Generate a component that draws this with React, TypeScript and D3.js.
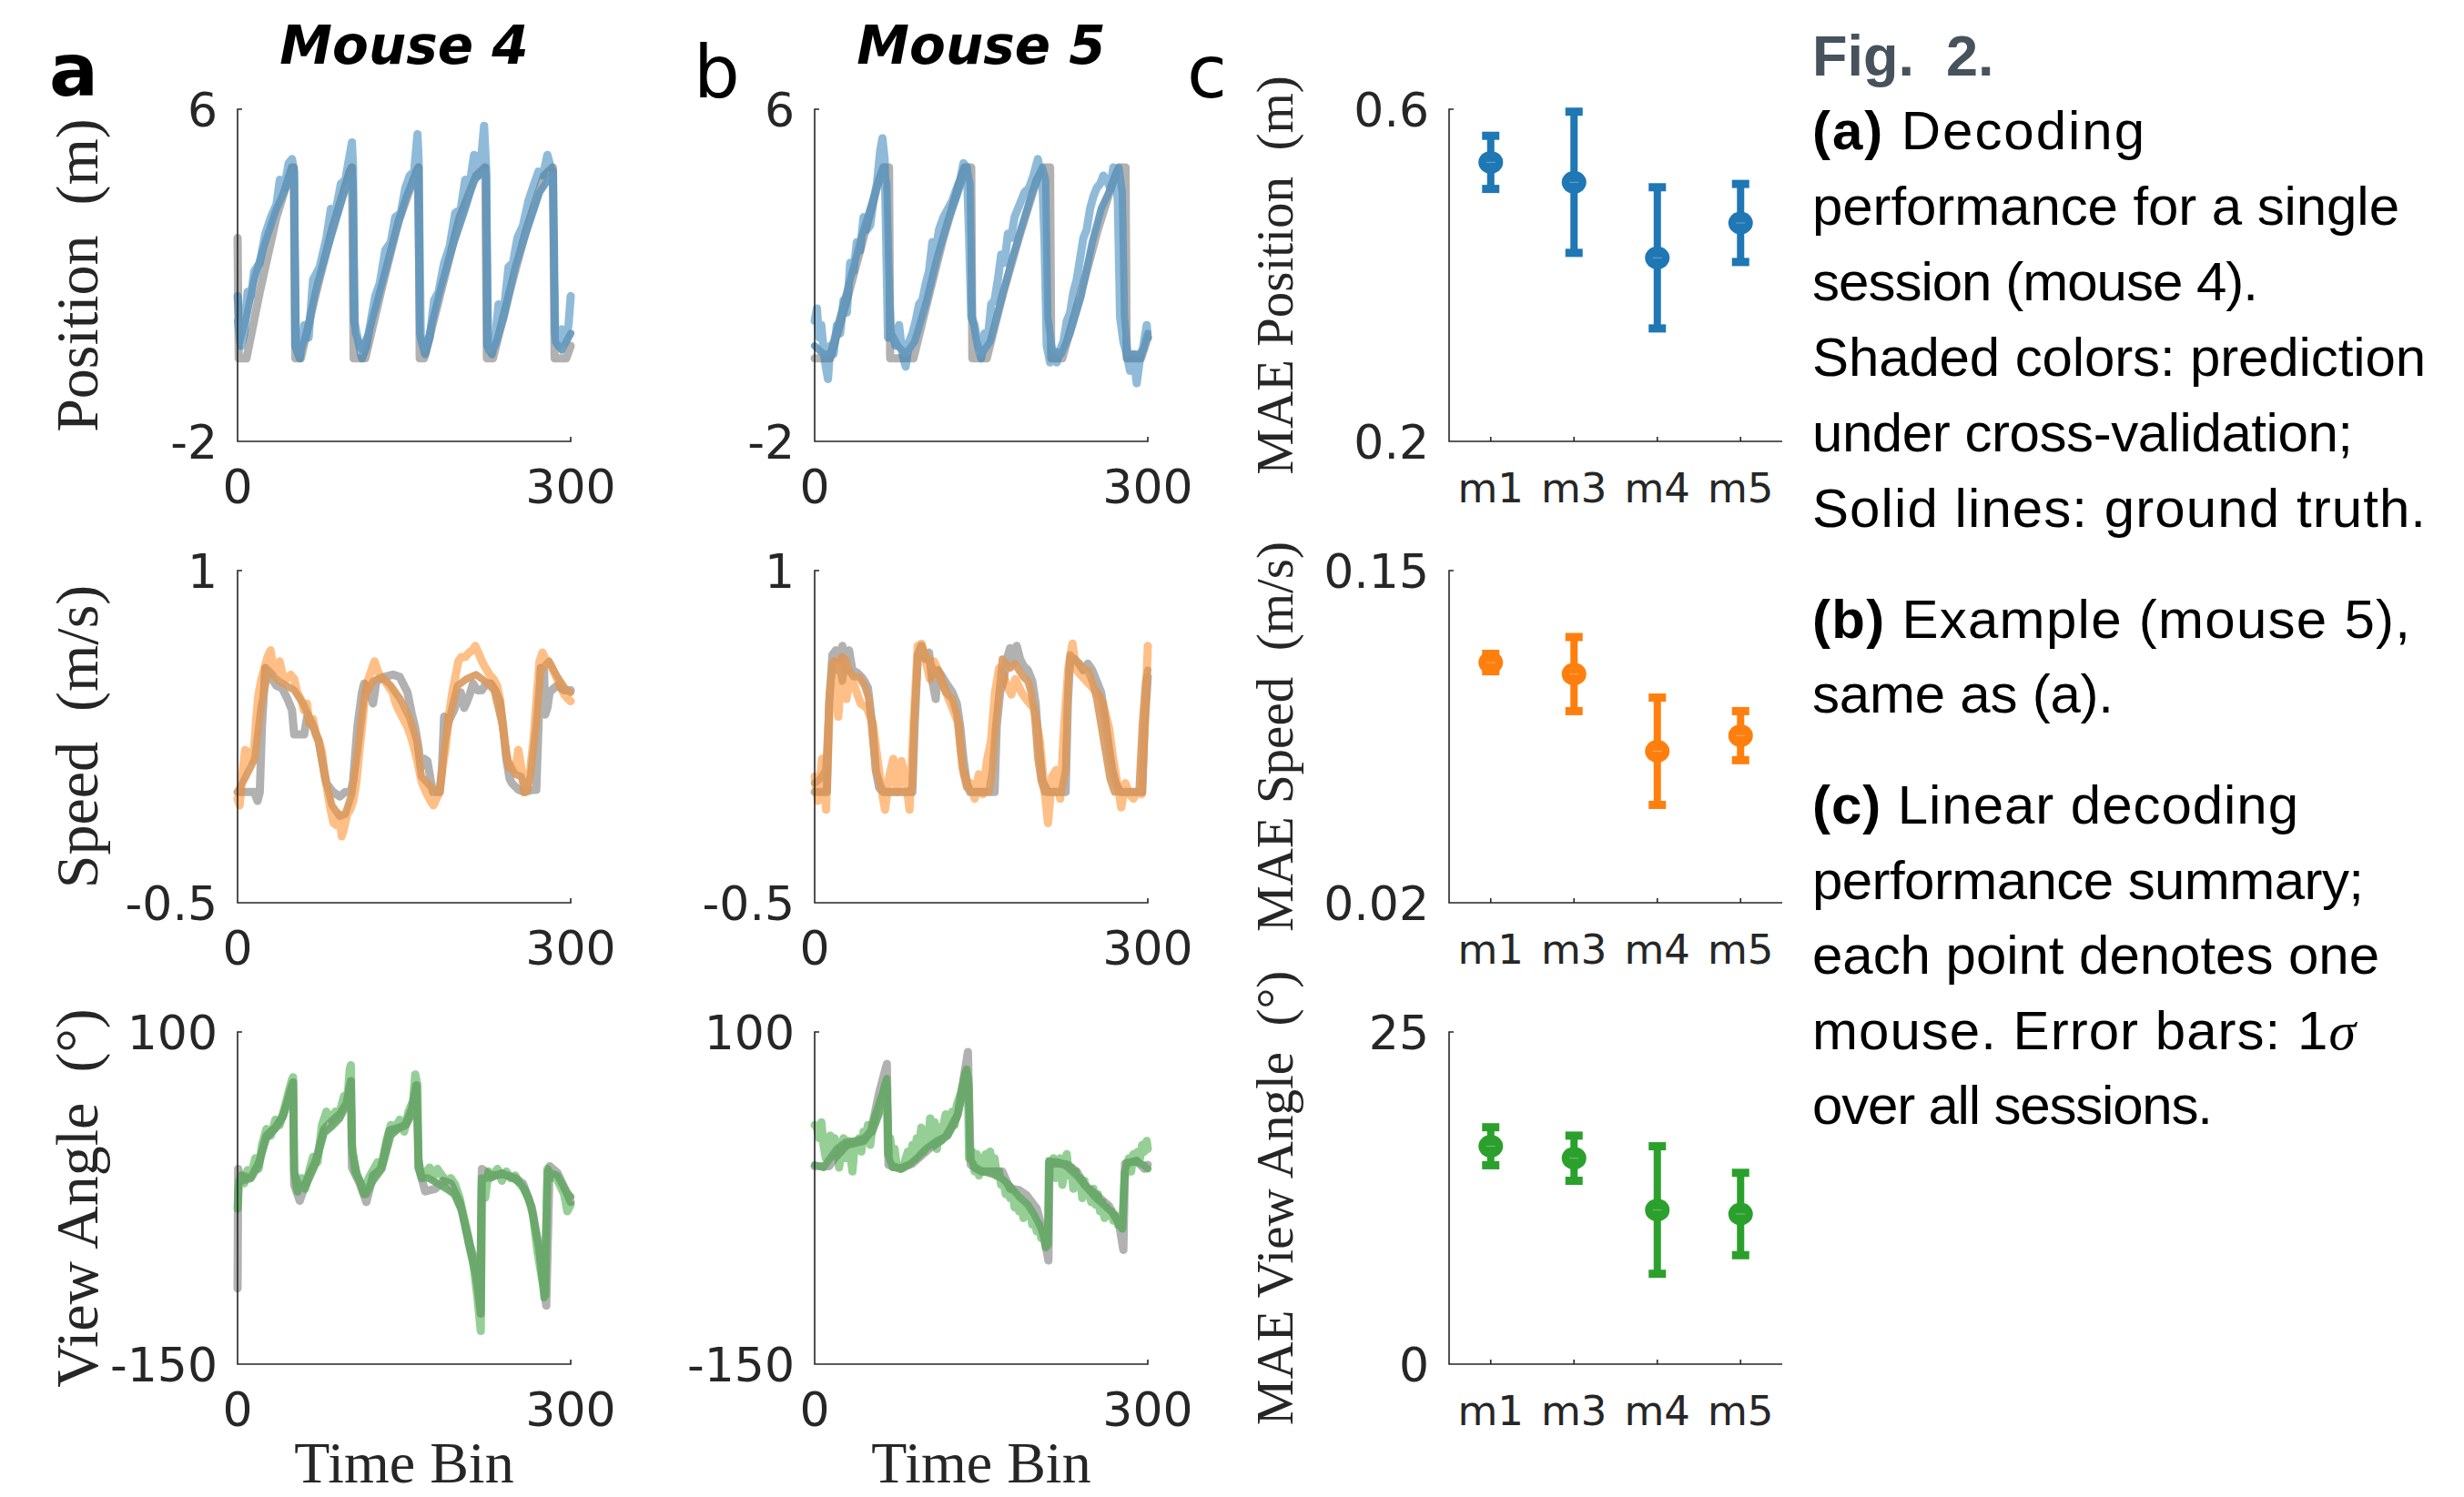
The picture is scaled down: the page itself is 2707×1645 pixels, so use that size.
import React from 'react';
import * as d3 from 'd3';

type Pt = [number, number];

// ---------- traces: [time bin, value] ----------
// position (m), mouse 4
const posTruthM4: Pt[] = [[0,2.9],[1,0],[8,0],[20,1.6],[35,3.4],[49,4.6],[50.5,4.6],[52,0],[57,0],[70,1.5],[85,3.1],[101,4.5],[103,4.6],[104.5,0],[115,0],[130,1.7],[145,3.3],[161,4.5],[163,4.6],[164,0],[168,0],[185,1.8],[200,3.4],[215,4.4],[223,4.6],[224.5,0],[230,0],[245,1.6],[260,3.1],[276,4.4],[284,4.6],[285.5,0],[296,0],[300,0.3]];
const posSmoothM4: Pt[] = [[0,0.9],[2,0.4],[8,1.0],[15,1.9],[25,2.8],[35,3.6],[45,4.2],[49,4.5],[51,4.4],[53,0.2],[56,0.1],[62,0.6],[72,1.8],[85,3.0],[95,3.9],[102,4.4],[104,4.3],[106,0.6],[112,0.2],[118,0.6],[130,1.8],[142,3.0],[152,3.9],[160,4.4],[162,4.5],[164,0.6],[168,0.2],[172,0.5],[182,1.6],[195,2.8],[205,3.6],[213,4.3],[222,4.5],[224,4.4],[226,0.2],[232,0.3],[240,1.0],[250,2.2],[262,3.2],[272,4.0],[282,4.4],[284,4.4],[286,0.4],[292,0.2],[296,0.4],[300,0.6]];
const posPredM4: Pt[] = [[0,1.5],[3,0.3],[6,0.6],[9,1.6],[12,1.5],[15,2.1],[20,2.3],[25,3.0],[30,3.4],[35,3.7],[38,4.3],[42,4.1],[46,4.7],[49,4.8],[51,4.5],[52,0.3],[56,0],[60,0.8],[64,0.5],[68,1.9],[74,2.2],[80,2.9],[84,3.6],[88,3.5],[93,4.2],[97,4.3],[101,4.9],[103,5.2],[104,4.6],[105,0.9],[108,0.5],[112,0.0],[116,0.3],[120,0.9],[124,1.5],[128,1.8],[133,2.6],[138,2.8],[142,3.4],[147,3.5],[151,4.1],[155,4.4],[159,4.5],[162,5.4],[163,4.8],[165,0.5],[169,0.1],[173,0.5],[177,1.4],[181,1.6],[186,2.3],[191,2.7],[196,3.5],[201,3.6],[205,4.3],[209,4.2],[213,4.9],[216,4.4],[220,5.0],[222,5.6],[224,4.5],[225,0.3],[229,0.1],[232,0.5],[235,1.3],[240,1.2],[244,2.2],[248,2.3],[252,2.9],[257,3.2],[262,3.8],[267,4.2],[271,4.5],[275,4.4],[279,4.9],[282,4.6],[284,4.5],[286,0.6],[289,0.3],[292,0.7],[295,0.4],[298,0.8],[300,1.5]];

// position (m), mouse 5
const posTruthM5: Pt[] = [[0,0],[14,0],[30,1.5],[45,3.0],[58,4.3],[62,4.6],[67,4.6],[68,0],[89,0],[100,1.2],[115,2.8],[130,4.2],[135,4.6],[141,4.6],[142,0],[155,0],[170,1.6],[185,3.0],[200,4.3],[206,4.6],[212,4.6],[213,0],[223,0],[240,1.6],[255,3.1],[268,4.2],[274,4.6],[280,4.6],[281,0],[294,0],[300,0.5]];
const posSmoothM5: Pt[] = [[0,0.3],[8,0.1],[14,0.1],[22,0.9],[32,1.9],[42,2.9],[50,3.6],[58,4.3],[62,4.6],[65,4.2],[67,2.0],[69,0.6],[75,0.3],[82,0.1],[90,0.4],[100,1.3],[110,2.4],[120,3.3],[128,3.9],[134,4.4],[137,4.6],[140,4.2],[142,1.0],[146,0.4],[150,0.1],[158,0.4],[168,1.4],[178,2.4],[188,3.3],[196,4.0],[202,4.4],[205,4.6],[208,4.3],[210,1.0],[214,0.2],[222,0.1],[230,0.6],[240,1.5],[250,2.8],[258,3.6],[265,4.0],[272,4.5],[274,4.6],[277,4.0],[279,1.0],[282,0.1],[292,0.1],[296,0.2],[300,0.6]];
const posPredM5: Pt[] = [[0,0.9],[2,1.2],[4,0.5],[6,0.8],[8,0.2],[10,-0.2],[12,-0.5],[14,0.3],[17,0.1],[20,0.8],[23,0.6],[26,1.4],[29,1.1],[32,2.3],[35,2.1],[38,2.8],[41,2.6],[44,3.4],[47,3.1],[50,3.2],[53,3.8],[56,4.2],[59,5.0],[61,5.3],[63,4.8],[65,2.0],[66,0.5],[70,0.6],[73,0.3],[76,0.8],[79,0.1],[82,-0.2],[85,0.4],[88,0.6],[91,0.9],[94,1.3],[97,1.4],[100,1.8],[103,2.1],[106,2.8],[109,2.6],[112,3.1],[116,3.4],[120,3.6],[124,3.8],[128,4.1],[131,4.3],[134,4.7],[137,4.6],[139,3.0],[141,1.0],[144,0.8],[147,0.3],[150,0.0],[153,0.6],[156,0.5],[159,1.3],[162,1.4],[165,1.9],[168,2.5],[171,2.3],[174,3.0],[177,2.9],[180,3.4],[183,3.6],[186,3.8],[189,4.0],[193,4.1],[197,4.4],[201,4.8],[203,4.5],[205,4.3],[207,2.8],[209,0.3],[212,-0.1],[215,0.1],[218,-0.1],[221,0.2],[224,0.4],[227,0.9],[230,1.1],[233,1.6],[236,1.9],[239,2.4],[242,2.9],[245,3.1],[248,3.6],[251,3.9],[254,4.1],[257,4.2],[260,4.4],[263,4.3],[266,4.1],[269,4.6],[271,4.5],[273,3.8],[275,1.0],[278,0.4],[281,0.1],[284,-0.3],[287,0.1],[290,-0.6],[293,0.0],[296,0.3],[299,0.8],[300,0.5]];

// speed (m/s), mouse 4
const spdTruthM4: Pt[] = [[0,0.0],[15,0.0],[18,-0.04],[20,0.0],[22,0.3],[25,0.56],[30,0.52],[35,0.48],[40,0.47],[45,0.42],[49,0.37],[51,0.26],[56,0.26],[60,0.26],[63,0.35],[67,0.31],[73,0.23],[77,0.12],[80,0.04],[86,0.0],[92,-0.02],[97,0.0],[102,0.0],[104,0.05],[108,0.3],[112,0.45],[114,0.49],[118,0.47],[122,0.4],[125,0.5],[132,0.52],[140,0.53],[146,0.52],[150,0.48],[153,0.45],[157,0.35],[160,0.29],[163,0.2],[165,0.11],[168,0.15],[171,0.14],[174,0.05],[176,0.0],[182,0.0],[184,0.1],[186,0.34],[190,0.32],[195,0.37],[198,0.42],[201,0.45],[204,0.38],[206,0.40],[209,0.44],[212,0.49],[216,0.46],[220,0.46],[224,0.49],[228,0.49],[232,0.46],[236,0.41],[239,0.3],[242,0.15],[245,0.06],[247,0.04],[253,0.01],[258,0.0],[266,0.01],[269,0.01],[271,0.3],[273,0.56],[276,0.55],[277,0.35],[279,0.38],[281,0.45],[285,0.47],[288,0.48],[294,0.46],[300,0.46]];
const spdSmoothM4: Pt[] = [[0,0.0],[7.4,0.07],[15.5,0.15],[21,0.38],[27.8,0.55],[37.4,0.50],[51,0.46],[59,0.40],[67,0.31],[72.8,0.23],[78.3,0.07],[85,-0.06],[92,-0.11],[97,-0.10],[102.8,-0.01],[108,0.18],[113.7,0.42],[122,0.50],[130,0.52],[138,0.48],[146.4,0.42],[154.6,0.34],[161.4,0.23],[165.5,0.07],[171,0.04],[176.4,0.01],[182,0.0],[187,0.23],[193,0.38],[198,0.48],[206,0.51],[214.6,0.53],[223,0.50],[231,0.46],[238,0.31],[243.5,0.14],[250,0.08],[255.5,0.07],[259.6,0.0],[263.7,0.07],[269,0.31],[273,0.55],[280.4,0.59],[288,0.52],[296,0.46],[300,0.45]];
const spdPredM4: Pt[] = [[0,-0.03],[1.9,-0.06],[4.1,0.07],[6.8,0.19],[9.5,0.18],[12.3,0.14],[15,0.2],[16.9,0.34],[18.8,0.44],[21.5,0.51],[24.3,0.56],[27,0.61],[29.7,0.64],[31.9,0.57],[34.6,0.55],[37.9,0.59],[40.6,0.53],[44.2,0.51],[47.7,0.53],[51,0.51],[53.7,0.45],[57,0.42],[59.7,0.37],[62.5,0.4],[64.6,0.31],[67.9,0.33],[70.6,0.26],[73.4,0.23],[76.1,0.18],[78.3,0.08],[81,0.0],[83.7,-0.08],[86.5,-0.14],[89.2,-0.15],[91.9,-0.1],[93.8,-0.2],[96,-0.16],[98.7,-0.1],[101.4,-0.08],[104.2,-0.04],[106.9,0.04],[109.6,0.18],[112.4,0.31],[115.1,0.45],[117.8,0.51],[120.5,0.55],[123.3,0.59],[126,0.55],[128.7,0.52],[131.4,0.51],[135.5,0.48],[139.6,0.45],[142.4,0.4],[145.1,0.37],[149.2,0.33],[153.3,0.29],[157.4,0.23],[161.4,0.15],[165.5,0.05],[169.6,0.0],[173.7,-0.04],[176.4,-0.06],[179.2,-0.03],[181.9,0.0],[184.6,0.11],[187.4,0.2],[190.1,0.34],[193.4,0.45],[196.1,0.52],[198.8,0.59],[201.5,0.61],[205.1,0.61],[208.6,0.63],[211.4,0.64],[214.1,0.66],[216.8,0.63],[220.1,0.59],[223.4,0.56],[226.9,0.53],[230.5,0.51],[233.7,0.48],[236.4,0.42],[239.2,0.29],[241.9,0.18],[244.6,0.11],[247.3,0.12],[250.1,0.1],[252.8,0.19],[255.5,0.11],[258.2,0.0],[261,0.01],[263.7,0.11],[266.4,0.23],[269.2,0.42],[271.9,0.59],[274.6,0.63],[277.3,0.6],[280.1,0.59],[283.3,0.56],[286.9,0.52],[290.4,0.48],[294.2,0.44],[297.8,0.42],[300,0.41]];

// speed (m/s), mouse 5
const spdTruthM5: Pt[] = [[0,0.0],[11,0.0],[13,0.4],[16,0.62],[19,0.64],[22,0.6],[25,0.66],[28,0.55],[31,0.64],[34,0.55],[38,0.54],[42,0.52],[45,0.5],[48,0.47],[52,0.3],[55,0.1],[58,0.02],[62,0.0],[70,0.0],[80,0.0],[88,0.0],[90,0.3],[93,0.62],[96,0.66],[100,0.6],[103,0.63],[106,0.5],[109,0.42],[111,0.55],[115,0.52],[120,0.48],[124,0.45],[128,0.4],[131,0.3],[134,0.15],[137,0.04],[140,0.0],[150,0.0],[158,0.0],[162,0.0],[164,0.3],[167,0.45],[170,0.5],[173,0.6],[176,0.65],[179,0.58],[182,0.66],[185,0.6],[188,0.57],[192,0.55],[196,0.5],[199,0.4],[202,0.2],[205,0.05],[210,0.0],[220,0.0],[226,0.0],[228,0.4],[230,0.6],[234,0.6],[238,0.58],[242,0.55],[246,0.58],[250,0.55],[254,0.5],[258,0.45],[261,0.35],[265,0.2],[268,0.1],[271,0.04],[275,0.0],[285,0.0],[295,0.0],[297,0.3],[300,0.52]];
const spdSmoothM5: Pt[] = [[0,0.04],[5,0.06],[10,0.1],[13,0.4],[16,0.58],[19,0.55],[22,0.58],[25,0.5],[28,0.6],[31,0.55],[35,0.52],[40,0.52],[45,0.48],[49,0.42],[52,0.25],[55,0.1],[58,0.05],[62,0.0],[68,0.0],[76,0.0],[84,0.0],[88,0.02],[90,0.35],[93,0.6],[96,0.66],[100,0.62],[103,0.6],[107,0.55],[112,0.52],[118,0.45],[124,0.42],[128,0.35],[131,0.2],[134,0.08],[137,0.02],[142,0.0],[150,0.0],[157,0.0],[160,0.1],[163,0.3],[166,0.45],[169,0.6],[172,0.58],[176,0.56],[180,0.58],[184,0.55],[188,0.52],[192,0.5],[195,0.45],[198,0.35],[201,0.15],[204,0.05],[207,0.0],[215,0.0],[222,0.0],[226,0.1],[228,0.45],[230,0.62],[234,0.6],[238,0.58],[242,0.56],[246,0.55],[250,0.5],[254,0.42],[258,0.3],[262,0.18],[266,0.06],[270,0.0],[278,0.0],[286,0.0],[292,0.0],[295,0.3],[298,0.5],[300,0.55]];
const spdPredM5: Pt[] = [[0,0.07],[2.9,-0.04],[6.6,0.15],[10.3,-0.08],[13.9,0.45],[17.6,0.59],[21.3,0.34],[24.9,0.61],[28.6,0.42],[32.3,0.53],[37.8,0.45],[41.4,0.4],[46.9,0.38],[52.4,0.31],[57.9,0.1],[61.6,-0.03],[63.4,-0.08],[67.1,0.07],[70.8,0.15],[74.4,0.0],[78.1,0.14],[81.8,0.07],[85.4,-0.08],[89.1,0.31],[92.8,0.66],[96.4,0.67],[100.1,0.59],[103.8,0.51],[107.4,0.59],[111.1,0.55],[118.4,0.45],[123.9,0.38],[129.4,0.31],[133.1,0.11],[136.8,0.05],[140.4,0.04],[144.1,-0.03],[147.8,0.08],[151.4,-0.01],[155.1,0.14],[158.8,0.23],[162.4,0.45],[166.1,0.56],[169.8,0.53],[173.4,0.48],[177.1,0.44],[180.8,0.51],[186.3,0.45],[191.8,0.41],[197.3,0.38],[202.8,0.23],[206.4,0.04],[210.1,-0.14],[213.8,0.07],[217.4,0.1],[221.1,-0.03],[224.8,0.31],[228.4,0.56],[232.1,0.67],[235.8,0.55],[239.5,0.53],[243.1,0.51],[248.6,0.48],[254.1,0.45],[259.6,0.4],[265.1,0.29],[268.8,0.15],[272.5,0.04],[276.1,-0.07],[279.8,0.04],[283.5,-0.01],[287.1,-0.03],[290.8,0.0],[294.5,-0.01],[297.4,0.31],[300,0.66]];

// view angle (deg), mouse 4
const angTruthM4: Pt[] = [[0,-93],[0.5,-3],[4,-12],[12,-10],[19,0],[26,22],[34,28],[41,37],[49,58],[50,62],[51,-15],[56,-27],[63,-10],[70,2],[78,27],[85,33],[92,38],[98,46],[102,63],[103,-2],[110,-14],[116,-28],[122,-8],[129,-3],[137,26],[146,28],[151,30],[157,42],[161,60],[163,-2],[169,-20],[178,-18],[185,-12],[192,-14],[200,-28],[209,-60],[215,-76],[219,-112],[220,-3],[228,-8],[239,-7],[250,-10],[257,-14],[265,-32],[272,-65],[278,-106],[281,-1],[288,-6],[296,-20],[300,-28]];
const angSmoothM4: Pt[] = [[0,-30],[1,-12],[5,-8],[12,-10],[19,2],[26,20],[34,27],[41,36],[48,58],[50,62],[51,-5],[55,-15],[62,-15],[70,0],[78,24],[85,29],[92,35],[98,45],[102,63],[103.5,10],[108,-8],[116,-22],[122,-12],[130,-3],[138,22],[146,28],[152,30],[158,40],[161,58],[163,5],[166,-10],[172,-10],[180,-14],[188,-18],[195,-22],[202,-35],[208,-60],[214,-82],[218,-105],[219.5,-10],[228,-10],[238,-6],[248,-10],[256,-15],[264,-30],[271,-60],[276,-100],[279,-5],[288,-8],[296,-20],[300,-24]];
const angPredM4: Pt[] = [[0,-33],[1,-18],[3,-8],[6,-14],[9,-4],[12,-8],[16,5],[19,-3],[22,15],[26,27],[30,22],[34,34],[38,30],[42,42],[46,55],[49,64],[50,66],[51,-5],[54,-20],[58,-10],[61,-18],[65,-3],[68,6],[72,2],[76,30],[80,40],[84,34],[88,40],[92,40],[96,52],[99,50],[101,72],[102,75],[103,15],[106,-5],[110,-12],[114,-22],[118,-10],[122,-4],[126,2],[130,0],[134,18],[138,30],[142,28],[146,34],[150,25],[154,40],[158,48],[160,68],[162,60],[163,-2],[166,-10],[170,-5],[173,-2],[176,-10],[180,-3],[184,-8],[188,-12],[192,-10],[196,-15],[200,-25],[204,-40],[208,-55],[212,-72],[216,-100],[219,-125],[220,-15],[223,-25],[226,-5],[230,-8],[234,-3],[238,-12],[242,-5],[246,-10],[250,-8],[254,-14],[258,-18],[262,-25],[266,-38],[270,-65],[274,-85],[277,-98],[279,-3],[282,-10],[286,-8],[290,-15],[294,-22],[297,-35],[300,-30]];

// view angle (deg), mouse 5
const angTruthM5: Pt[] = [[0,-1],[13,-1],[18,5],[29,15],[44,18],[51,26],[58,54],[65,76],[66.5,0],[77,-3],[88,1],[103,12],[118,21],[129,38],[138,85],[140.5,0],[150,-5],[162,-5],[169,-5],[176,-18],[184,-19],[191,-23],[200,-33],[206,-51],[210.5,-72],[211.5,1],[221,1],[228,0],[236,-5],[243,-15],[254,-23],[265,-31],[274,-44],[278,-64],[279.5,1],[290,3],[297,-3],[300,0]];
const angSmoothM5: Pt[] = [[0,0],[8,-2],[14,5],[20,12],[28,17],[36,18],[44,20],[52,25],[58,38],[63,60],[65,65],[67,5],[70,-2],[78,-2],[85,0],[92,5],[100,12],[110,18],[120,22],[128,35],[134,55],[137,72],[139,60],[140,5],[145,-3],[152,-5],[160,-7],[168,-10],[176,-16],[184,-24],[192,-30],[198,-38],[204,-48],[208,-60],[210,-55],[211,3],[220,2],[228,-2],[236,-8],[244,-16],[252,-24],[260,-30],[268,-36],[274,-44],[277,-48],[279,-5],[282,2],[290,2],[296,0],[300,-3]];
const angPredM5: Pt[] = [[0,30],[2,28],[4,20],[6,32],[8,15],[10,5],[12,12],[14,22],[16,8],[18,20],[20,15],[22,-2],[24,12],[26,20],[28,5],[30,18],[32,10],[34,-5],[36,15],[38,12],[40,20],[42,10],[44,25],[46,20],[48,30],[50,15],[52,28],[54,35],[56,40],[58,45],[60,50],[62,55],[64,60],[65,58],[66,8],[68,20],[70,5],[72,12],[74,-2],[76,0],[78,-3],[80,-2],[82,5],[84,10],[86,2],[88,15],[90,5],[92,20],[94,12],[96,28],[98,10],[100,25],[102,15],[104,35],[106,20],[108,32],[110,12],[112,28],[114,18],[116,30],[118,38],[120,25],[122,35],[124,40],[126,30],[128,45],[130,50],[132,55],[134,62],[136,70],[138,65],[139,5],[142,10],[144,-5],[146,8],[148,-8],[150,5],[152,-5],[154,8],[156,-3],[158,10],[160,-2],[162,5],[164,-8],[166,-5],[168,-15],[170,-12],[172,-22],[174,-15],[176,-25],[178,-20],[180,-32],[182,-25],[184,-35],[186,-28],[188,-40],[190,-30],[192,-38],[194,-35],[196,-45],[198,-40],[200,-50],[202,-45],[204,-55],[206,-52],[208,-62],[210,-60],[211,2],[213,-5],[215,5],[217,-10],[219,0],[221,5],[223,-15],[225,-5],[227,8],[229,-8],[231,-2],[233,-18],[235,-5],[237,-15],[239,-10],[241,-25],[243,-12],[245,-22],[247,-20],[249,-28],[251,-18],[253,-30],[255,-22],[257,-35],[259,-28],[261,-40],[263,-32],[265,-38],[267,-35],[269,-42],[271,-38],[273,-45],[275,-40],[277,-48],[279,-10],[281,0],[283,5],[285,-5],[287,8],[289,2],[291,10],[293,5],[295,15],[297,10],[299,18],[300,12]];

// ---------- summary (panel c) ----------
const mice = ['m1', 'm3', 'm4', 'm5'];
const maePosition = [0.536, 0.512, 0.421, 0.463];
const maePositionSd = [0.032, 0.085, 0.085, 0.047];
const maeSpeed = [0.114, 0.1095, 0.0793, 0.0854];
const maeSpeedSd = [0.0034, 0.0145, 0.021, 0.0096];
const maeAngle = [16.4, 15.5, 11.6, 11.3];
const maeAngleSd = [1.43, 1.7, 4.8, 3.1];

const timeTicks = [0, 300];
const posTicks = [-2, 6];
const spdTicks = [-0.5, 1];
const angTicks = [-150, 100];

// caption text; `true` marks bold, 'math' marks the math symbol
const captionA = [
  [['(a)', true], [' Decoding', false]],
  [['performance for a single', false]],
  [['session (mouse 4).', false]],
  [['Shaded colors: prediction', false]],
  [['under cross-validation;', false]],
  [['Solid lines: ground truth.', false]],
];
const captionB = [
  [['(b)', true], [' Example (mouse 5),', false]],
  [['same as (a).', false]],
];
const captionC = [
  [['(c)', true], [' Linear decoding', false]],
  [['performance summary;', false]],
  [['each point denotes one', false]],
  [['mouse. Error bars: 1', false], ['σ', 'math']],
  [['over all sessions.', false]],
];

// ---------- layout ----------
const AX = '#262626';
const W = 366;
const H = 365;
const colX = [261, 895, 1592];
const rowY = [120, 627, 1134];
const NUM = 'DejaVu Sans, sans-serif';
const SERIF = 'Liberation Serif, serif';
const SANS = 'Liberation Sans, Arial, sans-serif';
// rendered line widths of the caption in the figure
const widthsA = [365, 645, 490, 674, 594, 674];
const widthsB = [657, 331];
const widthsC = [534, 606, 623, 597, 440];

const palette = {
  blue: { light: '#1f77b4', dark: '#6698bc' },
  orange: { light: '#ff7f0e', dark: '#d99b62' },
  green: { light: '#2ca02c', dark: '#6aa86a' },
};

function TracePanel({ left, top, yDomain, truth, pred, smooth, color, ylabel }) {
  const x = d3.scaleLinear().domain([0, 300]).range([left, left + W]);
  const y = d3.scaleLinear().domain(yDomain).range([top + H, top]);
  const line = d3.line<Pt>().x(d => x(d[0])).y(d => y(d[1]));
  const common = { fill: 'none', strokeLinejoin: 'round' as const, strokeLinecap: 'round' as const };
  return (
    <g>
      <path d={line(truth) || ''} stroke="#b1b1b1" strokeWidth={9} {...common} />
      <path d={line(pred) || ''} stroke={color.light} strokeOpacity={0.5} strokeWidth={9} {...common} />
      <path d={line(smooth) || ''} stroke={color.dark} strokeOpacity={0.92} strokeWidth={8} {...common} />
      <path d={`M${left + 5},${top} H${left} V${top + H} H${left + W} V${top + H - 5}`} fill="none" stroke={AX} strokeWidth={1.6} />
      {yDomain.map(v => (
        <text key={'y' + v} x={left - 22} y={y(v)} dy="0.36em" textAnchor="end" fontFamily={NUM} fontSize={52} fill={AX}>{v}</text>
      ))}
      {timeTicks.map(t => (
        <text key={'x' + t} x={x(t)} y={top + H + 68} textAnchor="middle" fontFamily={NUM} fontSize={52} fill={AX}>{t}</text>
      ))}
      {ylabel && (
        <text transform={`translate(107,${top + H / 2}) rotate(-90)`} textAnchor="middle" fontFamily={SERIF} fontSize={66} fill={AX} xmlSpace="preserve">{ylabel}</text>
      )}
    </g>
  );
}

function ErrPanel({ top, yDomain, means, sds, color, ylabel, fmt }) {
  const left = colX[2];
  const x = d3.scalePoint().domain(mice).range([left, left + W]).padding(0.5);
  const y = d3.scaleLinear().domain(yDomain).range([top + H, top]);
  return (
    <g>
      <path d={`M${left + 5},${top} H${left} V${top + H} H${left + W}`} fill="none" stroke={AX} strokeWidth={1.6} />
      {mice.map(m => (
        <line key={'t' + m} x1={x(m)} x2={x(m)} y1={top + H} y2={top + H - 5} stroke={AX} strokeWidth={1.6} />
      ))}
      {mice.map((m, i) => {
        const cx = x(m) as number;
        const y0 = y(means[i] - sds[i]);
        const y1 = y(means[i] + sds[i]);
        return (
          <g key={m}>
            <line x1={cx} x2={cx} y1={y0} y2={y1} stroke={color} strokeWidth={8} />
            <line x1={cx - 9.5} x2={cx + 9.5} y1={y0} y2={y0} stroke={color} strokeWidth={9} />
            <line x1={cx - 9.5} x2={cx + 9.5} y1={y1} y2={y1} stroke={color} strokeWidth={9} />
            <ellipse cx={cx} cy={y(means[i])} rx={13.5} ry={12.5} fill={color} />
            <line x1={cx - 5} x2={cx + 5} y1={y(means[i])} y2={y(means[i])} stroke="#ffffff" strokeOpacity={0.35} strokeWidth={1} />
          </g>
        );
      })}
      {yDomain.map(v => (
        <text key={'y' + v} x={left - 22} y={y(v)} dy="0.36em" textAnchor="end" fontFamily={NUM} fontSize={52} fill={AX}>{fmt(v)}</text>
      ))}
      {mice.map(m => (
        <text key={'l' + m} x={x(m)} y={top + H + 67} textAnchor="middle" fontFamily={NUM} fontSize={45} fill={AX}>{m}</text>
      ))}
      <text transform={`translate(1420,${top + H / 2}) rotate(-90)`} textAnchor="middle" fontFamily={SERIF} fontSize={57} fill={AX} xmlSpace="preserve">{ylabel}</text>
    </g>
  );
}

function Caption({ lines, widths, y0, step }) {
  return (
    <g>
      {lines.map((parts, i) => (
        <text key={i} x={1991} y={y0 + i * step} fontFamily={SANS} fontSize={60} fill="#000"
          textLength={widths[i]} lengthAdjust="spacing" xmlSpace="preserve">
          {parts.map(([s, b], j) => (
            <tspan key={j}
              fontWeight={b === true ? 'bold' : 'normal'}
              fontStyle={b === 'math' ? 'italic' : 'normal'}
              fontFamily={b === 'math' ? SERIF : SANS}>{s}</tspan>
          ))}
        </text>
      ))}
    </g>
  );
}

export default function App() {
  return (
    <svg width={2707} height={1645} style={{ position: 'absolute', left: 0, top: 0, background: '#fff' }}>
      <rect width={2707} height={1645} fill="#fff" />
      <text x={54} y={105} fontFamily={NUM} fontWeight="bold" fontSize={80} fill="#000">a</text>
      <text x={762} y={107} fontFamily={NUM} fontSize={80} fill="#000">b</text>
      <text x={1304} y={107} fontFamily={NUM} fontSize={80} fill="#000">c</text>
      <text x={colX[0] + W / 2} y={70} textAnchor="middle" fontFamily={NUM} fontWeight="bold" fontStyle="italic" fontSize={58} fill="#000">Mouse 4</text>
      <text x={colX[1] + W / 2} y={70} textAnchor="middle" fontFamily={NUM} fontWeight="bold" fontStyle="italic" fontSize={58} fill="#000">Mouse 5</text>

      <TracePanel left={colX[0]} top={rowY[0]} yDomain={posTicks} truth={posTruthM4} pred={posPredM4} smooth={posSmoothM4} color={palette.blue} ylabel="Position  (m)" />
      <TracePanel left={colX[1]} top={rowY[0]} yDomain={posTicks} truth={posTruthM5} pred={posPredM5} smooth={posSmoothM5} color={palette.blue} ylabel={null} />
      <TracePanel left={colX[0]} top={rowY[1]} yDomain={spdTicks} truth={spdTruthM4} pred={spdPredM4} smooth={spdSmoothM4} color={palette.orange} ylabel="Speed  (m/s)" />
      <TracePanel left={colX[1]} top={rowY[1]} yDomain={spdTicks} truth={spdTruthM5} pred={spdPredM5} smooth={spdSmoothM5} color={palette.orange} ylabel={null} />
      <TracePanel left={colX[0]} top={rowY[2]} yDomain={angTicks} truth={angTruthM4} pred={angPredM4} smooth={angSmoothM4} color={palette.green} ylabel="View Angle  (°)" />
      <TracePanel left={colX[1]} top={rowY[2]} yDomain={angTicks} truth={angTruthM5} pred={angPredM5} smooth={angSmoothM5} color={palette.green} ylabel={null} />

      <text x={colX[0] + W / 2} y={1629} textAnchor="middle" fontFamily={SERIF} fontSize={64} fill={AX}>Time Bin</text>
      <text x={colX[1] + W / 2} y={1629} textAnchor="middle" fontFamily={SERIF} fontSize={64} fill={AX}>Time Bin</text>

      <ErrPanel top={rowY[0]} yDomain={[0.2, 0.6]} means={maePosition} sds={maePositionSd} color="#1f77b4" ylabel="MAE Position  (m)" fmt={v => v.toFixed(1)} />
      <ErrPanel top={rowY[1]} yDomain={[0.02, 0.15]} means={maeSpeed} sds={maeSpeedSd} color="#ff7f0e" ylabel="MAE Speed  (m/s)" fmt={v => v.toFixed(2)} />
      <ErrPanel top={rowY[2]} yDomain={[0, 25]} means={maeAngle} sds={maeAngleSd} color="#2ca02c" ylabel="MAE View Angle  (°)" fmt={v => String(v)} />

      <text x={1991} y={83} fontFamily={SANS} fontWeight="bold" fontSize={63} fill="#46525c" xmlSpace="preserve">Fig.  2.</text>
      <Caption lines={captionA} widths={widthsA} y0={164} step={83} />
      <Caption lines={captionB} widths={widthsB} y0={701} step={82} />
      <Caption lines={captionC} widths={widthsC} y0={905} step={82.5} />
    </svg>
  );
}
